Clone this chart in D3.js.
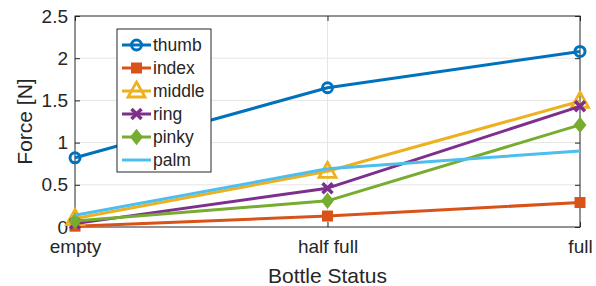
<!DOCTYPE html>
<html>
<head>
<meta charset="utf-8">
<script src="https://cdn.jsdelivr.net/npm/d3@7"></script>
<style>
  body { margin: 0; background: #fff; }
  text { font-family: "Liberation Sans", Arial, sans-serif; fill: #262626; }
</style>
</head>
<body>
<div id="chart"></div>
<script>
// bottle states on the x axis
var categories = ['empty', 'half full', 'full']
var yTicks = [0, 0.5, 1, 1.5, 2, 2.5]

// force per finger, N
var thumb  = [0.82, 1.65, 2.08]
var index  = [0.01, 0.13, 0.29]
var middle = [0.10, 0.66, 1.49]
var ring   = [0.04, 0.46, 1.43]
var pinky  = [0.07, 0.31, 1.21]
var palm   = [0.14, 0.69, 0.90]

var seriesNames = ['thumb', 'index', 'middle', 'ring', 'pinky', 'palm']
var seriesColors = ['#0072BD', '#D95319', '#EDB120', '#7E2F8E', '#77AC30', '#4DBEEE']
var seriesMarkers = ['circle', 'square', 'triangle', 'cross', 'diamond', 'none']
var seriesValues = [thumb, index, middle, ring, pinky, palm]

var W = 596, H = 286
var margin = {left: 75, right: 16, top: 16, bottom: 59}
var width = W - margin.left - margin.right
var height = H - margin.top - margin.bottom

var svg = d3.select('#chart').append('svg').attr('width', W).attr('height', H)
var g = svg.append('g').attr('transform', 'translate(' + margin.left + ',' + margin.top + ')')

var x = d3.scalePoint().domain(categories).range([0, width])
var y = d3.scaleLinear().domain([0, 2.5]).range([height, 0])

// grid
g.append('g').selectAll('line').data(yTicks.slice(1, -1)).join('line')
  .attr('x1', 0).attr('x2', width)
  .attr('y1', d => y(d)).attr('y2', d => y(d))
  .attr('stroke', '#e5e5e5').attr('stroke-width', 1)
g.append('g').selectAll('line').data(categories.slice(1, -1)).join('line')
  .attr('x1', d => x(d)).attr('x2', d => x(d))
  .attr('y1', 0).attr('y2', height)
  .attr('stroke', '#e5e5e5').attr('stroke-width', 1)

// box
g.append('rect').attr('width', width).attr('height', height)
  .attr('fill', 'none').attr('stroke', '#262626').attr('stroke-width', 1)

// axes with inward ticks
var yAxis = d3.axisLeft(y).tickValues(yTicks).tickSize(-5).tickPadding(7).tickFormat(d3.format('~g'))
var yAxisR = d3.axisRight(y).tickValues(yTicks).tickSize(-5).tickFormat('')
var xAxis = d3.axisBottom(x).tickSize(-5).tickPadding(12.5)
var xAxisT = d3.axisTop(x).tickSize(-5).tickFormat('')

function styleAxis(sel) {
  sel.select('.domain').remove()
  sel.selectAll('line').attr('stroke', '#262626')
  sel.selectAll('text').attr('font-size', 19).attr('fill', '#262626')
    .attr('font-family', '"Liberation Sans", Arial, sans-serif')
}
g.append('g').call(yAxis).call(styleAxis)
g.append('g').attr('transform', 'translate(' + width + ',0)').call(yAxisR).call(styleAxis)
g.append('g').attr('transform', 'translate(0,' + height + ')').call(xAxis).call(styleAxis)
g.append('g').call(xAxisT).call(styleAxis)

// axis titles
svg.append('text').attr('x', margin.left + width / 2).attr('y', 283)
  .attr('text-anchor', 'middle').attr('font-size', 21).text('Bottle Status')
svg.append('text').attr('transform', 'translate(32,' + (margin.top + height / 2) + ') rotate(-90)')
  .attr('text-anchor', 'middle').attr('font-size', 21).text('Force [N]')

function drawMarker(sel, type, color) {
  if (type === 'circle') {
    sel.append('circle').attr('r', 5).attr('fill', 'none').attr('stroke', color).attr('stroke-width', 3)
  } else if (type === 'square') {
    sel.append('rect').attr('x', -5).attr('y', -5).attr('width', 10).attr('height', 10)
      .attr('fill', color).attr('stroke', color).attr('stroke-width', 1)
  } else if (type === 'triangle') {
    sel.append('path').attr('d', 'M0,-9L8.5,6L-8.5,6Z')
      .attr('fill', 'none').attr('stroke', color).attr('stroke-width', 2.8).attr('stroke-linejoin', 'miter')
  } else if (type === 'cross') {
    sel.append('path').attr('d', 'M-5,-5L5,5M-5,5L5,-5')
      .attr('stroke', color).attr('stroke-width', 3.5)
  } else if (type === 'diamond') {
    sel.append('path').attr('d', 'M0,-7L5.5,0L0,7L-5.5,0Z')
      .attr('fill', color).attr('stroke', color).attr('stroke-width', 1.5)
  }
}

var line = d3.line().x((d, i) => x(categories[i])).y(d => y(d))

seriesValues.forEach(function(vals, k) {
  var color = seriesColors[k]
  var sg = g.append('g')
  sg.append('path').attr('d', line(vals)).attr('fill', 'none')
    .attr('stroke', color).attr('stroke-width', 3).attr('stroke-linejoin', 'round')
  vals.forEach(function(v, i) {
    var m = sg.append('g').attr('transform', 'translate(' + x(categories[i]) + ',' + y(v) + ')')
    drawMarker(m, seriesMarkers[k], color)
  })
})

// legend
var lg = svg.append('g').attr('transform', 'translate(117,29)')
lg.append('rect').attr('width', 94).attr('height', 143)
  .attr('fill', '#fff').attr('stroke', '#262626').attr('stroke-width', 1)
seriesNames.forEach(function(name, k) {
  var row = lg.append('g').attr('transform', 'translate(0,' + (16 + k * 23) + ')')
  row.append('line').attr('x1', 5).attr('x2', 34).attr('stroke', seriesColors[k]).attr('stroke-width', 3)
  var m = row.append('g').attr('transform', 'translate(19.5,0)')
  drawMarker(m, seriesMarkers[k], seriesColors[k])
  row.append('text').attr('x', 36).attr('y', 6).attr('font-size', 17.5).text(name)
})
</script>
</body>
</html>
